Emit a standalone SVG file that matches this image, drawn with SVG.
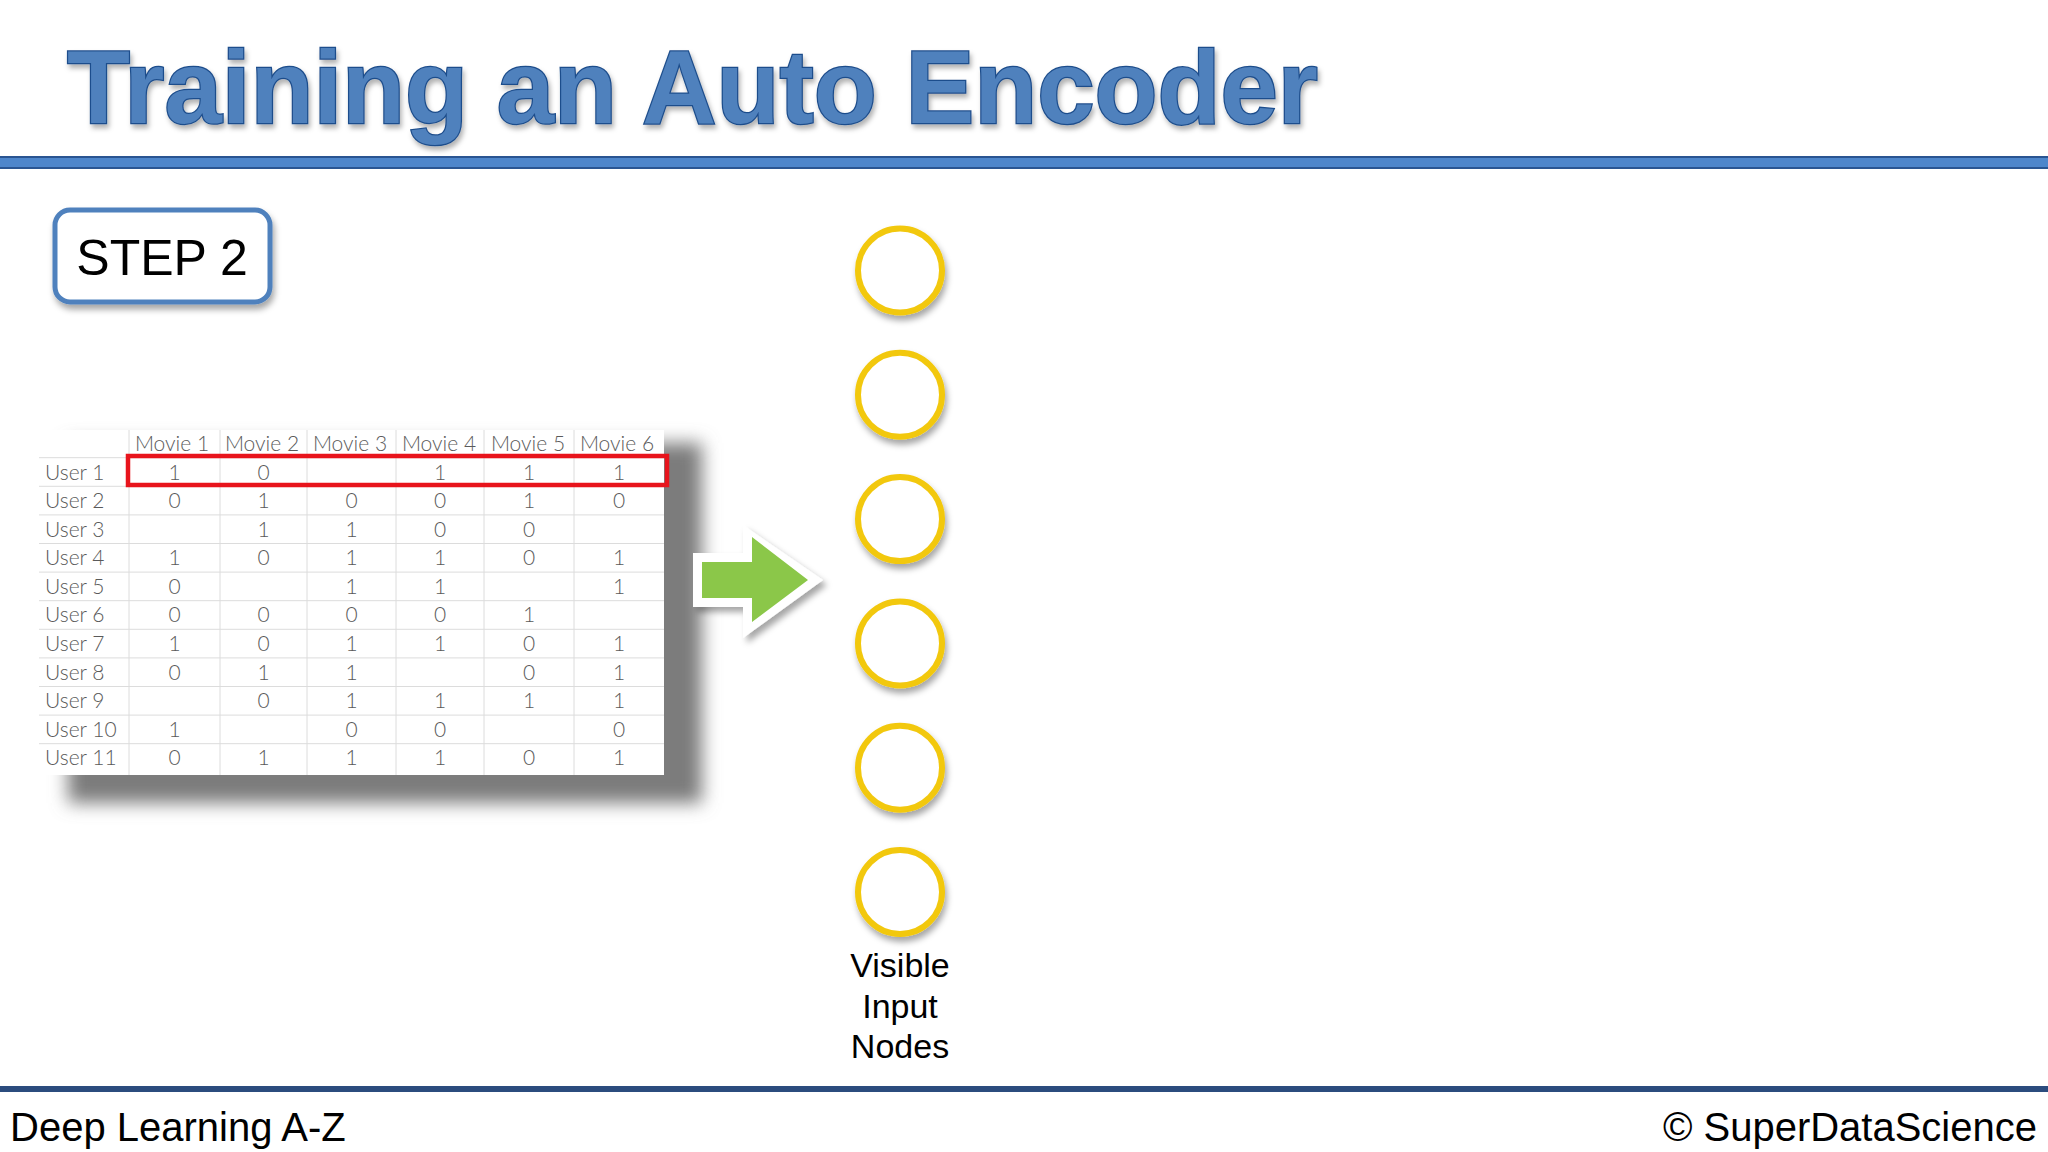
<svg xmlns="http://www.w3.org/2000/svg" width="2048" height="1152" viewBox="0 0 2048 1152">
  <defs>
    <filter id="softShadow" x="-20%" y="-20%" width="140%" height="140%">
      <feDropShadow dx="2" dy="5" stdDeviation="3" flood-color="#000" flood-opacity="0.35"/>
    </filter>
    <filter id="titleShadow" x="-5%" y="-20%" width="110%" height="140%">
      <feDropShadow dx="2" dy="4" stdDeviation="2.5" flood-color="#000" flood-opacity="0.3"/>
    </filter>
    <filter id="tableBlur" x="-20%" y="-20%" width="140%" height="140%">
      <feGaussianBlur stdDeviation="9"/>
    </filter>
    <filter id="arrowShadow" x="-30%" y="-30%" width="160%" height="160%">
      <feDropShadow dx="4" dy="5" stdDeviation="3" flood-color="#000" flood-opacity="0.35"/>
    </filter>
    <style>
      .title { font-family: "Liberation Sans", Arial, sans-serif; font-weight: bold; font-size: 104px; fill: #4f81bd; stroke: #1f4e8c; stroke-width: 2.5px; paint-order: stroke; }
      .foot { font-family: "Liberation Sans", Arial, sans-serif; font-size: 40px; fill: #000; }
      .step { font-family: "Liberation Sans", Arial, sans-serif; font-size: 50px; fill: #000; text-anchor: middle; }
      .lbl { font-family: "Liberation Sans", Arial, sans-serif; font-size: 34px; fill: #000; text-anchor: middle; }
      .cell { font-family: Lato, "Open Sans", sans-serif; font-weight: 300; font-size: 21px; fill: #5a5a5a; text-anchor: middle; }
      .rowlbl { font-family: Lato, "Open Sans", sans-serif; font-weight: 300; font-size: 21px; fill: #5a5a5a; }
      .grid { stroke: #dcdcdc; stroke-width: 1; }
      .node { fill: #ffffff; stroke: #f2c811; stroke-width: 6; filter: url(#softShadow); }
    </style>
  </defs>

  <rect x="0" y="0" width="2048" height="1152" fill="#ffffff"/>

  <g id="title">
    <text class="title" x="67" y="123" textLength="1251" lengthAdjust="spacingAndGlyphs" filter="url(#titleShadow)">Training an Auto Encoder</text>
  </g>

  <g id="header-rule">
    <rect x="-2" y="157" width="2052" height="11" fill="#4e86cb" stroke="#2a5592" stroke-width="2"/>
  </g>

  <g id="step-box">
    <rect x="55" y="210" width="215" height="92" rx="15" ry="15" fill="#ffffff" stroke="#4f81bd" stroke-width="5" filter="url(#softShadow)"/>
    <text class="step" x="162" y="275">STEP 2</text>
  </g>

  <g id="table">
    <rect x="68" y="443" width="634" height="360" fill="#7c7c7c" filter="url(#tableBlur)"/>
    <rect x="39" y="430" width="625" height="345" fill="#ffffff"/>
    <g class="grid">
      <line x1="129" y1="430" x2="129" y2="775"/>
      <line x1="220" y1="430" x2="220" y2="775"/>
      <line x1="307" y1="430" x2="307" y2="775"/>
      <line x1="396" y1="430" x2="396" y2="775"/>
      <line x1="484" y1="430" x2="484" y2="775"/>
      <line x1="574" y1="430" x2="574" y2="775"/>
      <line x1="39" y1="457.7" x2="664" y2="457.7"/>
      <line x1="39" y1="486.3" x2="664" y2="486.3"/>
      <line x1="39" y1="514.9" x2="664" y2="514.9"/>
      <line x1="39" y1="543.5" x2="664" y2="543.5"/>
      <line x1="39" y1="572.1" x2="664" y2="572.1"/>
      <line x1="39" y1="600.7" x2="664" y2="600.7"/>
      <line x1="39" y1="629.3" x2="664" y2="629.3"/>
      <line x1="39" y1="657.9" x2="664" y2="657.9"/>
      <line x1="39" y1="686.5" x2="664" y2="686.5"/>
      <line x1="39" y1="715.1" x2="664" y2="715.1"/>
      <line x1="39" y1="743.7" x2="664" y2="743.7"/>
    </g>
    <!-- header -->
    <text class="cell" x="172" y="451">Movie 1</text>
    <text class="cell" x="262" y="451">Movie 2</text>
    <text class="cell" x="350" y="451">Movie 3</text>
    <text class="cell" x="439" y="451">Movie 4</text>
    <text class="cell" x="528" y="451">Movie 5</text>
    <text class="cell" x="617" y="451">Movie 6</text>
    <!-- row labels -->
    <text class="rowlbl" x="45" y="479.5">User 1</text>
    <text class="rowlbl" x="45" y="508">User 2</text>
    <text class="rowlbl" x="45" y="536.6">User 3</text>
    <text class="rowlbl" x="45" y="565.2">User 4</text>
    <text class="rowlbl" x="45" y="593.8">User 5</text>
    <text class="rowlbl" x="45" y="622.4">User 6</text>
    <text class="rowlbl" x="45" y="651">User 7</text>
    <text class="rowlbl" x="45" y="679.6">User 8</text>
    <text class="rowlbl" x="45" y="708.2">User 9</text>
    <text class="rowlbl" x="45" y="736.8">User 10</text>
    <text class="rowlbl" x="45" y="765.4">User 11</text>
    <!-- User 1 -->
    <text class="cell" x="174.5" y="479.5">1</text>
    <text class="cell" x="263.5" y="479.5">0</text>
    <text class="cell" x="440" y="479.5">1</text>
    <text class="cell" x="529" y="479.5">1</text>
    <text class="cell" x="619" y="479.5">1</text>
    <!-- User 2 -->
    <text class="cell" x="174.5" y="508">0</text>
    <text class="cell" x="263.5" y="508">1</text>
    <text class="cell" x="351.5" y="508">0</text>
    <text class="cell" x="440" y="508">0</text>
    <text class="cell" x="529" y="508">1</text>
    <text class="cell" x="619" y="508">0</text>
    <!-- User 3 -->
    <text class="cell" x="263.5" y="536.6">1</text>
    <text class="cell" x="351.5" y="536.6">1</text>
    <text class="cell" x="440" y="536.6">0</text>
    <text class="cell" x="529" y="536.6">0</text>
    <!-- User 4 -->
    <text class="cell" x="174.5" y="565.2">1</text>
    <text class="cell" x="263.5" y="565.2">0</text>
    <text class="cell" x="351.5" y="565.2">1</text>
    <text class="cell" x="440" y="565.2">1</text>
    <text class="cell" x="529" y="565.2">0</text>
    <text class="cell" x="619" y="565.2">1</text>
    <!-- User 5 -->
    <text class="cell" x="174.5" y="593.8">0</text>
    <text class="cell" x="351.5" y="593.8">1</text>
    <text class="cell" x="440" y="593.8">1</text>
    <text class="cell" x="619" y="593.8">1</text>
    <!-- User 6 -->
    <text class="cell" x="174.5" y="622.4">0</text>
    <text class="cell" x="263.5" y="622.4">0</text>
    <text class="cell" x="351.5" y="622.4">0</text>
    <text class="cell" x="440" y="622.4">0</text>
    <text class="cell" x="529" y="622.4">1</text>
    <!-- User 7 -->
    <text class="cell" x="174.5" y="651">1</text>
    <text class="cell" x="263.5" y="651">0</text>
    <text class="cell" x="351.5" y="651">1</text>
    <text class="cell" x="440" y="651">1</text>
    <text class="cell" x="529" y="651">0</text>
    <text class="cell" x="619" y="651">1</text>
    <!-- User 8 -->
    <text class="cell" x="174.5" y="679.6">0</text>
    <text class="cell" x="263.5" y="679.6">1</text>
    <text class="cell" x="351.5" y="679.6">1</text>
    <text class="cell" x="529" y="679.6">0</text>
    <text class="cell" x="619" y="679.6">1</text>
    <!-- User 9 -->
    <text class="cell" x="263.5" y="708.2">0</text>
    <text class="cell" x="351.5" y="708.2">1</text>
    <text class="cell" x="440" y="708.2">1</text>
    <text class="cell" x="529" y="708.2">1</text>
    <text class="cell" x="619" y="708.2">1</text>
    <!-- User 10 -->
    <text class="cell" x="174.5" y="736.8">1</text>
    <text class="cell" x="351.5" y="736.8">0</text>
    <text class="cell" x="440" y="736.8">0</text>
    <text class="cell" x="619" y="736.8">0</text>
    <!-- User 11 -->
    <text class="cell" x="174.5" y="765.4">0</text>
    <text class="cell" x="263.5" y="765.4">1</text>
    <text class="cell" x="351.5" y="765.4">1</text>
    <text class="cell" x="440" y="765.4">1</text>
    <text class="cell" x="529" y="765.4">0</text>
    <text class="cell" x="619" y="765.4">1</text>
    <!-- highlight -->
    <rect x="128" y="456" width="539" height="29" fill="none" stroke="#e8141c" stroke-width="4.5"/>
  </g>

  <g id="connectors">
    <polygon points="693,553 743,553 743,525 823,580 743,638 743,607 693,607" fill="#ffffff" filter="url(#arrowShadow)"/>
    <polygon points="702,562 752,562 752,537 808,580 752,622 752,598 702,598" fill="#8bc749"/>
  </g>

  <g id="node-1"><circle class="node" cx="900" cy="270.5" r="42"/></g>
  <g id="node-2"><circle class="node" cx="900" cy="394.8" r="42"/></g>
  <g id="node-3"><circle class="node" cx="900" cy="519.1" r="42"/></g>
  <g id="node-4"><circle class="node" cx="900" cy="643.4" r="42"/></g>
  <g id="node-5"><circle class="node" cx="900" cy="767.7" r="42"/></g>
  <g id="node-6"><circle class="node" cx="900" cy="892" r="42"/></g>

  <g id="node-label">
    <text class="lbl" x="900" y="977">Visible</text>
    <text class="lbl" x="900" y="1018">Input</text>
    <text class="lbl" x="900" y="1058">Nodes</text>
  </g>

  <g id="footer">
    <rect x="0" y="1086" width="2048" height="6" fill="#2b4c7e"/>
    <text class="foot" x="10" y="1141">Deep Learning A-Z</text>
    <text class="foot" x="2037" y="1141" text-anchor="end">© SuperDataScience</text>
  </g>
</svg>
